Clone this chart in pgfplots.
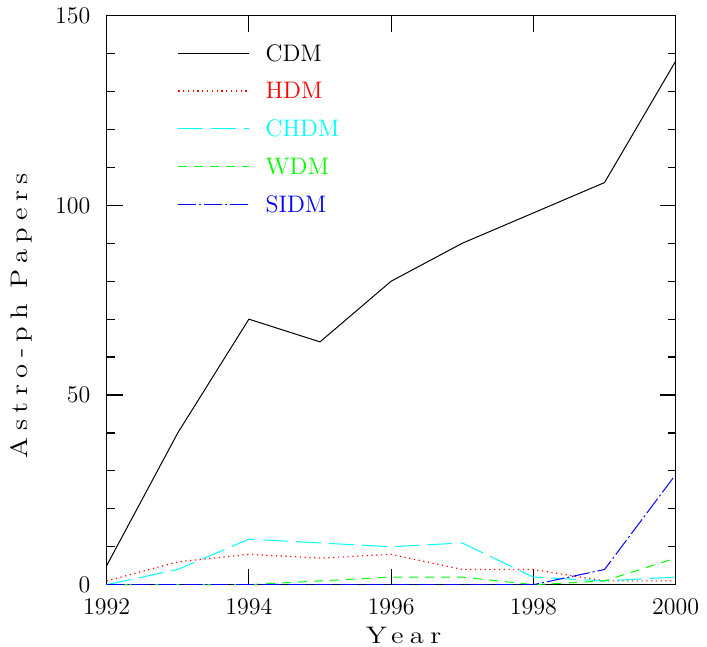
\documentclass[border=0pt,12pt]{standalone}
\usepackage{fontspec}
\newfontfamily\spaced{Latin Modern Roman}[LetterSpace=27, FakeStretch=1.2]
\usepackage{pgfplots}
\pgfplotsset{compat=1.18}

\definecolor{pgred}{rgb}{1,0,0}
\definecolor{pgcyan}{rgb}{0,1,1}
\definecolor{pggreen}{rgb}{0,1,0}
\definecolor{pgblue}{rgb}{0,0,1}

\begin{document}
\begin{tikzpicture}
\begin{axis}[
  name=ax,
  width=285.5pt, height=285.5pt, scale only axis,
  xmin=1992, xmax=2000, ymin=0, ymax=150,
  xtick={1992,1994,...,2000}, ytick={0,50,100,150},
  minor x tick num=3, minor y tick num=4,
  tick align=inside,
  major tick length=8pt, minor tick length=4pt,
  every tick/.style={black, line width=0.6pt},
  axis line style={line width=0.8pt},
  /pgf/number format/1000 sep={},
  xticklabel style={yshift=-3pt},
  yticklabel style={xshift=-4pt},
  xlabel={{\spaced Year}},
  ylabel={{\spaced Astro-ph Papers}},
  every axis x label/.style={at={(axis description cs:0.522,-0.0736)}, anchor=north, inner sep=0pt},
  every axis y label/.style={at={(axis description cs:-0.1506,0.4729)}, rotate=90, anchor=center, inner sep=0pt},
  legend image code/.code={\draw[#1] (0pt,0pt) -- (35.5pt,0pt);},
  legend cell align=left,
  legend style={draw=none, fill=none, at={(axis description cs:0.1243,0.949)},
    anchor=north west, inner sep=0pt, row sep=11pt, column sep=8pt,
    nodes={inner sep=0pt, text height=8pt, text depth=0pt}},
]
\addplot[black, line width=0.5pt] coordinates {
(1992,5) (1993,40) (1994,70) (1995,64) (1996,80) (1997,90) (1998,98) (1999,106) (2000,138)
};
\addlegendentry{CDM}
\addplot[pgred, line width=0.6pt, dash pattern=on 0.6pt off 1.8pt] coordinates {
(1992,1) (1993,6) (1994,8) (1995,7) (1996,8) (1997,4) (1998,4) (1999,1) (2000,1)
};
\addlegendentry{\textcolor{pgred}{HDM}}
\addplot[pgcyan, line width=0.5pt, dash pattern=on 12.5pt off 4pt] coordinates {
(1992,0) (1993,4) (1994,12) (1995,11) (1996,10) (1997,11) (1998,2) (1999,1) (2000,2)
};
\addlegendentry{\textcolor{pgcyan}{CHDM}}
\addplot[pggreen, line width=0.5pt, dash pattern=on 4.5pt off 3.5pt] coordinates {
(1992,0) (1993,0) (1994,0) (1995,1) (1996,2) (1997,2) (1998,0) (1999,1) (2000,7)
};
\addlegendentry{\textcolor{pggreen}{WDM}}
\addplot[pgblue, line width=0.5pt, dash pattern=on 9pt off 1.5pt on 1pt off 1.5pt] coordinates {
(1992,0) (1993,0) (1994,0) (1995,0) (1996,0) (1997,0) (1998,0) (1999,4) (2000,29)
};
\addlegendentry{\textcolor{pgblue}{SIDM}}
\end{axis}
\path (ax.south west) ++(-53.5pt,-31pt) rectangle ++(353.5pt,324pt);
\end{tikzpicture}
\end{document}
